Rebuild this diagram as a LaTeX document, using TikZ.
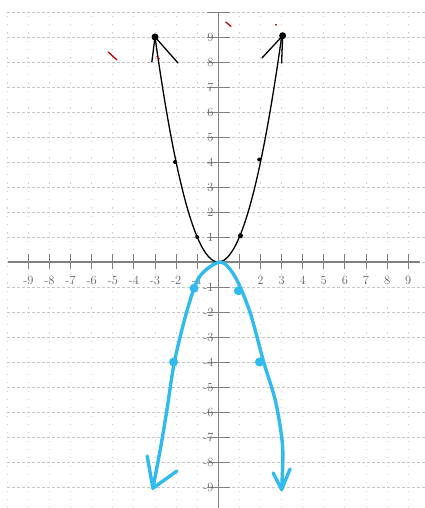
\documentclass[tikz,border=0pt]{standalone}
\usepackage{xcolor}
\usepackage{tikz}
\usetikzlibrary{calc}
\definecolor{skyblue}{RGB}{48,186,238}
\tikzset{
  gridrow/.style={draw=gray!45, dash pattern=on 3pt off 2pt, line width=0.6pt},
  gridcol/.style={draw=gray!35, dash pattern=on 1.2pt off 7.13pt, dash phase=-7.9pt, line width=0.9pt},
  axisline/.style={draw=black!50, line width=1.6pt},
  tickmark/.style={draw=black!50, line width=0.9pt},
  ticklabel/.style={font=\fontsize{12.5}{13}\selectfont, text=black!60, inner sep=0pt},
  upcurve/.style={black, line width=1.3pt, line cap=round, line join=round},
  downcurve/.style={skyblue, line width=3.4pt, line cap=round, line join=round},
  blackdot/.style={circle, fill=black, inner sep=0pt, minimum size=4pt},
  bigdot/.style={circle, fill=black, inner sep=0pt, minimum size=7pt},
  bluedot/.style={circle, fill=skyblue, inner sep=0pt, minimum size=9pt},
  redmark/.style={draw=red!75!black, line width=1.3pt, line cap=round},
}

\begin{document}
\begin{tikzpicture}[x=21.1pt, y=25pt]
  \useasboundingbox[fill=white] (-10.346,-9.84) rectangle (9.796,10.48);

  % Grid
  \foreach \gx in {-10,...,9}
    \draw[gridcol] (\gx,-9.84) -- (\gx,10);
  \foreach \gy in {-9,...,10}
    \draw[gridrow] (-10,\gy) -- (9.8,\gy);

  % Axes
  \draw[axisline] (-9.97,0) -- (9.56,0);
  \draw[axisline] (0,10) -- (0,-9.84);
  \foreach \tx in {-9,...,-1,1,2,...,9}
    \draw[tickmark] (\tx,-0.3) -- (\tx,0.3);
  \foreach \ty in {-9,...,-1,1,2,...,10}
    \draw[tickmark] (-0.55,\ty) -- (0.55,\ty);

  % Labels
  \foreach \tx in {-9,...,-1}
    \node[ticklabel] (xl\tx) at (\tx,-0.72) {-\the\numexpr-\tx\relax};
  \foreach \tx in {2,...,9}
    \node[ticklabel] (xl\tx) at (\tx,-0.72) {\tx};
  \foreach \ty in {1,...,9}
    \node[ticklabel, anchor=east] (yl\ty) at (-0.22,\ty) {\ty};
  \foreach \ty in {-9,...,-1}
    \node[ticklabel, anchor=east] (yl\ty) at (-0.22,\ty) {-\the\numexpr-\ty\relax};

  % y = x^2
  \draw[upcurve] plot[domain=-3:3, samples=60, smooth] (\x,{\x*\x});
  \node[bigdot] (ltip) at (-3,9) {};
  \node[bigdot] (rtip) at (3.05,9.05) {};
  \coordinate (la1) at (-3.15,8.0);
  \coordinate (la2) at (-1.91,7.96);
  \coordinate (ra1) at (2.07,8.16);
  \coordinate (ra2) at (3.0,7.96);
  \draw[upcurve] (la1) -- (ltip.center) -- (la2);
  \draw[upcurve] (ra1) -- (rtip.center) -- (ra2);
  \node[blackdot] (p1) at (-2.05,4) {};
  \node[blackdot] (p2) at (1.94,4.1) {};
  \node[blackdot] (p3) at (-1,1) {};
  \node[blackdot, minimum size=5pt] (p4) at (1.05,1.05) {};

  % y = -x^2
  \draw[downcurve] plot[smooth, tension=0.5] coordinates {
    (-3.1,-9.05) (-2.75,-7.5) (-2.45,-6) (-2.08,-4)
    (-1.5,-2) (-0.9,-0.6) (0.1,0) (0.8,-0.6)
    (1.5,-2) (2.15,-4) (2.72,-5.6) (3.05,-7.4) (3.0,-9.1)};
  \coordinate (bl) at (-3.1,-9.05);
  \coordinate (br) at (3.0,-9.1);
  \draw[downcurve] (-3.37,-7.76) -- (bl) -- (-1.96,-8.36);
  \draw[downcurve] (2.6,-8.44) -- (br) -- (3.4,-8.28);
  \node[bluedot] (q1) at (-1.15,-1.05) {};
  \node[bluedot] (q2) at (0.95,-1.15) {};
  \node[bluedot] (q3) at (-2.12,-4.0) {};
  \node[bluedot] (q4) at (1.95,-4.0) {};

  % stray marks
  \draw[redmark] (-5.22,8.4) -- (-4.8,8.08);
  \draw[redmark] (0.36,9.6) -- (0.6,9.42);
  \draw[redmark] (2.72,9.5) -- (2.76,9.47);
  \draw[redmark, line width=0.8pt] (-2.92,8.22) -- (-2.78,8.12);
\end{tikzpicture}
\end{document}
